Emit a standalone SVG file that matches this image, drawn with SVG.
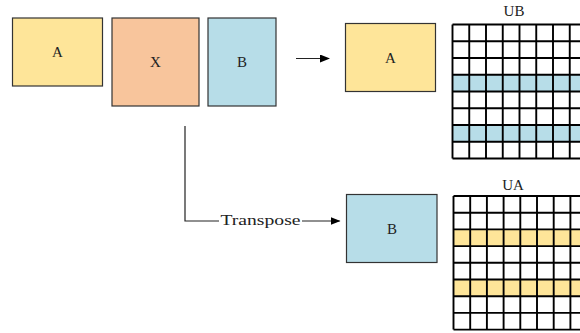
<svg xmlns="http://www.w3.org/2000/svg" width="580" height="333" viewBox="0 0 580 333">
  <style>
    .box { stroke: #333; stroke-width: 1.2; }
    .a { fill: #fee599; }
    .x { fill: #f8c59c; }
    .b { fill: #b7dde8; }
    .lbl { font-family: "Liberation Serif", "Noto Sans CJK SC", serif; font-size: 15px; fill: #222; text-anchor: middle; }
    .grid { fill: none; stroke: #000; stroke-width: 1.9; }
    .wire { fill: none; stroke: #222; stroke-width: 1.2; }
  </style>
  <defs>
    <marker id="arrow" markerWidth="10" markerHeight="8" refX="9" refY="4" orient="auto" markerUnits="userSpaceOnUse">
      <path d="M0,0 L10,4 L0,8 Z" fill="#000"/>
    </marker>
  </defs>
  <rect width="580" height="333" fill="#fff"/>

  <g id="node-A">
    <rect class="box a" x="12.5" y="18" width="90" height="68"/>
    <text class="lbl" x="57.5" y="57">A</text>
  </g>
  <g id="node-X">
    <rect class="box x" x="112" y="18" width="87" height="88"/>
    <text class="lbl" x="155.5" y="67">X</text>
  </g>
  <g id="node-B">
    <rect class="box b" x="208" y="18" width="68" height="88"/>
    <text class="lbl" x="242" y="67">B</text>
  </g>
  <g id="node-A2">
    <rect class="box a" x="345.5" y="23.5" width="90" height="68"/>
    <text class="lbl" x="390.5" y="62.5">A</text>
  </g>
  <g id="node-B2">
    <rect class="box b" x="346.5" y="194.5" width="90.5" height="68"/>
    <text class="lbl" x="392" y="233.5">B</text>
  </g>

  <g id="grid-UB">
    <text class="lbl" x="514" y="16">UB</text>
    <rect class="b" x="452.5" y="74.75" width="140" height="16.75"/>
    <rect class="b" x="452.5" y="125" width="140" height="16.75"/>
    <path class="grid" d="M452.5,24.5H590 M452.5,41.25H590 M452.5,58H590 M452.5,74.75H590 M452.5,91.5H590 M452.5,108.25H590 M452.5,125H590 M452.5,141.75H590 M452.5,158.5H590
      M452.5,24.5V158.5 M469.25,24.5V158.5 M486,24.5V158.5 M502.75,24.5V158.5 M519.5,24.5V158.5 M536.25,24.5V158.5 M553,24.5V158.5 M569.75,24.5V158.5"/>
  </g>

  <g id="grid-UA">
    <text class="lbl" x="513" y="190">UA</text>
    <rect class="a" x="453.5" y="229.4" width="140" height="16.7"/>
    <rect class="a" x="453.5" y="279.5" width="140" height="16.7"/>
    <path class="grid" d="M453.5,196H590 M453.5,212.7H590 M453.5,229.4H590 M453.5,246.1H590 M453.5,262.8H590 M453.5,279.5H590 M453.5,296.2H590 M453.5,312.9H590 M453.5,329.6H590
      M453.5,196V329.6 M470.2,196V329.6 M486.9,196V329.6 M503.6,196V329.6 M520.3,196V329.6 M537,196V329.6 M553.7,196V329.6 M570.4,196V329.6"/>
  </g>

  <g id="connectors">
    <line class="wire" x1="296" y1="58.5" x2="329" y2="58.5" marker-end="url(#arrow)"/>
    <path class="wire" d="M185,126 V221 H219"/>
    <line class="wire" x1="302" y1="221" x2="339.5" y2="221" marker-end="url(#arrow)"/>
    <text class="lbl" x="260.5" y="225" textLength="80" lengthAdjust="spacingAndGlyphs">Transpose</text>
  </g>
</svg>
